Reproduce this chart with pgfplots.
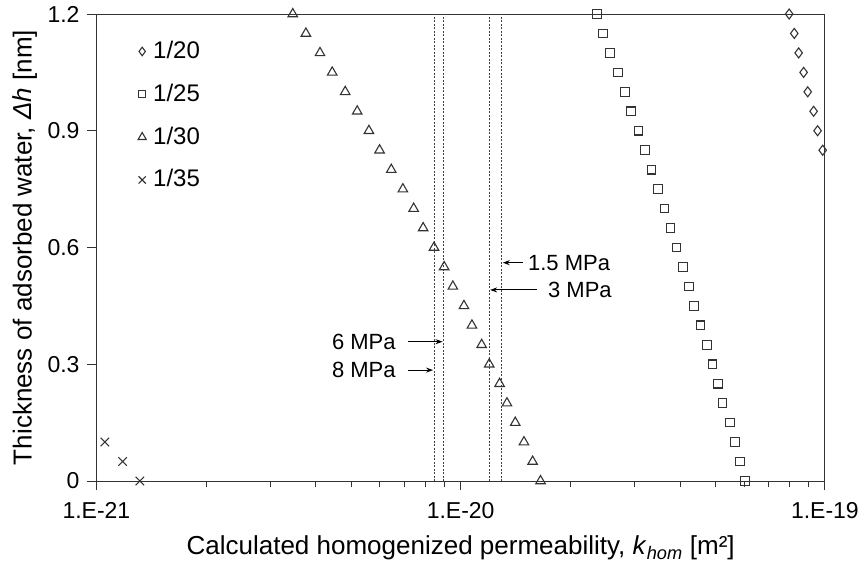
\documentclass[border=0pt]{standalone}
\usepackage{fontspec}
\setmainfont{Liberation Sans}
\usepackage{pgfplots}
\pgfplotsset{compat=1.18}
\usetikzlibrary{arrows.meta}

\begin{document}
\fontsize{23}{28}\selectfont
\begin{tikzpicture}
\path[use as bounding box] (0,0) rectangle (864pt,565pt);
\begin{axis}[
  at={(96.5pt,84pt)}, anchor=south west,
  width=728.5pt, height=467pt, scale only axis,
  xmode=log, xmin=1e-21, xmax=1e-19,
  ymin=0, ymax=1.2,
  xtick={1e-21,1e-20,1e-19},
  xticklabels={1.E-21,1.E-20,1.E-19},
  ytick={0,0.3,0.6,0.9,1.2},
  /pgf/number format/assume math mode=true,
  tick label style={font=\fontsize{23}{28}\selectfont},
  tick pos=left, tick align=outside,
  major tick length=9pt, minor tick length=6pt,
  tick style={black!80, line width=0.9pt},
  axis line style={black!80, line width=0.9pt},
  yticklabel style={xshift=0pt},
  xticklabel style={yshift=-5pt},
  xlabel={Calculated homogenized permeability, \textit{k}\textsubscript{\textit{hom}} [m²]},
  ylabel={Thickness of adsorbed water, \textit{Δh} [nm]},
  label style={font=\fontsize{26}{31}\selectfont},
  xlabel style={at={(axis description cs:0.5,-0.1435)}, anchor=center},
  ylabel style={at={(axis description cs:-0.098,0.5)}, anchor=center},
  clip=false,
  legend style={at={(axis description cs:0.057,0.949)}, anchor=north west,
    draw=none, fill=none, row sep=16pt, font=\fontsize{24}{29}\selectfont,
    inner sep=0pt, nodes={inner sep=3pt}},
  legend cell align=left,
  legend image code/.code={
    \draw[#1, every mark/.append style={scale=0.85}] plot coordinates {(0pt,0pt)};
    \path[draw=none] (-4pt,0pt) -- (8pt,0pt);
  },
]
% pressure lines (drawn first)
\addplot[forget plot, black!75, line width=0.9pt, dash pattern=on 2pt off 1.5pt] coordinates {(8.46e-21,0) (8.46e-21,1.2)};
\addplot[forget plot, black!75, line width=0.9pt, dash pattern=on 2pt off 1.5pt] coordinates {(8.98e-21,0) (8.98e-21,1.2)};
\addplot[forget plot, black!75, line width=0.9pt, dash pattern=on 2pt off 1.5pt] coordinates {(1.198e-20,0) (1.198e-20,1.2)};
\addplot[forget plot, black!75, line width=0.9pt, dash pattern=on 2pt off 1.5pt] coordinates {(1.297e-20,0) (1.297e-20,1.2)};

% 1/20
\addplot[only marks, mark=diamond, mark size=5pt, mark options={draw=black!80, fill=white, line width=1.1pt}] coordinates {
  (7.98e-20,1.20) (8.24e-20,1.15) (8.47e-20,1.10) (8.74e-20,1.05)
  (8.97e-20,1.00) (9.31e-20,0.95) (9.55e-20,0.90) (9.86e-20,0.85)
};
\addlegendentry{1/20}
% 1/25
\addplot[only marks, mark=square, mark size=4.3pt, mark options={draw=black!80, fill=white, line width=1.1pt}] coordinates {
  (2.366e-20,1.20) (2.462e-20,1.15) (2.573e-20,1.10) (2.707e-20,1.05)
  (2.825e-20,1.00) (2.934e-20,0.95) (3.080e-20,0.90) (3.206e-20,0.85)
  (3.344e-20,0.80) (3.487e-20,0.75) (3.631e-20,0.70) (3.771e-20,0.65)
  (3.917e-20,0.60) (4.083e-20,0.55) (4.233e-20,0.50) (4.378e-20,0.45)
  (4.559e-20,0.40) (4.744e-20,0.35) (4.918e-20,0.30) (5.085e-20,0.25)
  (5.239e-20,0.20) (5.495e-20,0.15) (5.672e-20,0.10) (5.854e-20,0.05)
  (6.042e-20,0.00)
};
\addlegendentry{1/25}
% 1/30
\addplot[only marks, mark=triangle, mark size=5.5pt, mark options={draw=black!80, fill=white, line width=1.1pt}] coordinates {
  (3.46e-21,1.20) (3.76e-21,1.15) (4.11e-21,1.10) (4.44e-21,1.05)
  (4.82e-21,1.00) (5.20e-21,0.95) (5.60e-21,0.90) (5.99e-21,0.85)
  (6.45e-21,0.80) (6.94e-21,0.75) (7.43e-21,0.70) (7.89e-21,0.65)
  (8.45e-21,0.60) (9.01e-21,0.55) (9.52e-21,0.50) (1.021e-20,0.45)
  (1.074e-20,0.40) (1.142e-20,0.35) (1.198e-20,0.30) (1.279e-20,0.25)
  (1.340e-20,0.20) (1.412e-20,0.15) (1.492e-20,0.10) (1.576e-20,0.05)
  (1.657e-20,0.00)
};
\addlegendentry{1/30}
% 1/35
\addplot[only marks, mark=x, mark size=6pt, mark options={draw=black!80, line width=1.1pt}] coordinates {
  (1.055e-21,0.10) (1.18e-21,0.05) (1.316e-21,0.00)
};
\addlegendentry{1/35}

% annotations
\draw[-{Stealth[length=7pt,width=5pt]}, line width=0.9pt] (axis cs:1.482e-20,0.561) -- (axis cs:1.305e-20,0.561);
\node[anchor=west, inner sep=0pt, font=\fontsize{22}{26}\selectfont] at (axis cs:1.53e-20,0.561) {1.5 MPa};
\draw[-{Stealth[length=7pt,width=5pt]}, line width=0.9pt] (axis cs:1.62e-20,0.491) -- (axis cs:1.205e-20,0.491);
\node[anchor=west, inner sep=0pt, font=\fontsize{22}{26}\selectfont] at (axis cs:1.736e-20,0.491) {3 MPa};
\draw[-{Stealth[length=7pt,width=5pt]}, line width=0.9pt] (axis cs:7.16e-21,0.358) -- (axis cs:8.92e-21,0.358);
\node[anchor=east, inner sep=0pt, font=\fontsize{22}{26}\selectfont] at (axis cs:6.64e-21,0.358) {6 MPa};
\draw[-{Stealth[length=7pt,width=5pt]}, line width=0.9pt] (axis cs:7.19e-21,0.285) -- (axis cs:8.40e-21,0.285);
\node[anchor=east, inner sep=0pt, font=\fontsize{22}{26}\selectfont] at (axis cs:6.64e-21,0.285) {8 MPa};
\end{axis}
\end{tikzpicture}
\end{document}
